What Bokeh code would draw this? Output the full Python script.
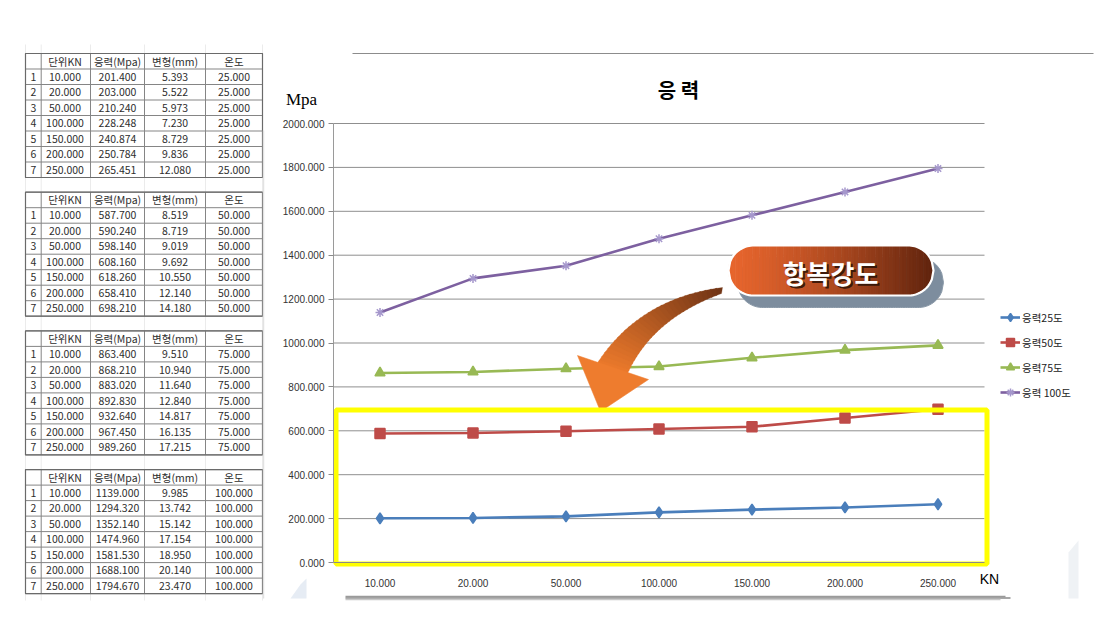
import math
from bokeh.plotting import figure
from bokeh.models import (Range1d, FixedTicker, PrintfTickFormatter, Legend,
                          LegendItem, Label, LinearAxis)
from bokeh.core.properties import value
from bokeh.embed import file_html
from bokeh.resources import INLINE

# ---------------- data ----------------
kn_labels = ["10.000", "20.000", "50.000", "100.000", "150.000", "200.000", "250.000"]
temps = [25.0, 50.0, 75.0, 100.0]
stress_25 = [201.400, 203.000, 210.240, 228.248, 240.874, 250.784, 265.451]
strain_25 = [5.393, 5.522, 5.973, 7.230, 8.729, 9.836, 12.080]
stress_50 = [587.700, 590.240, 598.140, 608.160, 618.260, 658.410, 698.210]
strain_50 = [8.519, 8.719, 9.019, 9.692, 10.550, 12.140, 14.180]
stress_75 = [863.400, 868.210, 883.020, 892.830, 932.640, 967.450, 989.260]
strain_75 = [9.510, 10.940, 11.640, 12.840, 14.817, 16.135, 17.215]
stress_100 = [1139.000, 1294.320, 1352.140, 1474.960, 1581.530, 1688.100, 1794.670]
strain_100 = [9.985, 13.742, 15.142, 17.154, 18.950, 20.140, 23.470]
series_names = ["응력25도", "응력50도", "응력75도", "응력 100도"]
col_headers = ["단위KN", "응력(Mpa)", "변형(mm)", "온도"]
y_ticks = [0, 200, 400, 600, 800, 1000, 1200, 1400, 1600, 1800, 2000]
title_text = "응 력"
y_unit = "Mpa"
x_unit = "KN"
badge_text = "항복강도"

stresses = [stress_25, stress_50, stress_75, stress_100]
strains = [strain_25, strain_50, strain_75, strain_100]
# categorical slots: each load category occupies one unit-wide slot
x_pos = [i + 0.5 for i in range(len(kn_labels))]
n_cat = len(kn_labels)
y_max = y_ticks[-1]

KR = "Noto Sans CJK KR"

# ---------------- one page-sized figure (page pixel coordinates) ----------------
OFF = 0
W, H = 1100, 640
p = figure(width=W, height=H, x_range=Range1d(OFF, OFF + W), y_range=Range1d(OFF + H, OFF),
           x_axis_location=None, y_axis_location=None, toolbar_location=None,
           output_backend="svg", min_border=0, outline_line_color=None)
p.grid.visible = False

# chart plot-area placement on the page
X0_PX, CAT_PX = 333.0, 93.0
Y0_PX, YTOP_PX = 562.0, 123.0
k = y_max / (Y0_PX - YTOP_PX)
p.extra_x_ranges = {"cat": Range1d((OFF - X0_PX) / CAT_PX, (OFF + W - X0_PX) / CAT_PX)}
p.extra_y_ranges = {"mpa": Range1d(-(OFF + H - Y0_PX) * k, y_max + (YTOP_PX - OFF) * k)}

# ---------------- tables ----------------
col_edges = [25, 40.7, 90, 144, 205, 262]
col_cx = [33, 64.5, 117, 174.5, 233.5]
row_h = 15.5
p.segment(x0=col_edges, y0=[44] * 6, x1=col_edges, y1=[600] * 6,
          line_color="#ebebeb", line_width=1)

for t in range(len(temps)):
    top = 53 + t * 138.7
    bottom = top + 8 * row_h
    p.quad(left=[col_edges[0]], right=[col_edges[-1]], top=[top], bottom=[bottom],
           fill_color="white", line_color=None)
    hy = [top + j * row_h for j in range(9)]
    p.segment(x0=[col_edges[0]] * 9, y0=hy, x1=[col_edges[-1]] * 9, y1=hy,
              line_color="#858585", line_width=1)
    p.segment(x0=col_edges, y0=[top] * 6, x1=col_edges, y1=[bottom] * 6,
              line_color="#858585", line_width=1)
    p.quad(left=[col_edges[0]], right=[col_edges[-1]], top=[top], bottom=[bottom],
           fill_alpha=0, line_color="#6a6a6a", line_width=1.2)
    tx, ty, tt = [], [], []
    for c, h in enumerate(col_headers):
        tx.append(col_cx[c + 1]); ty.append(top + row_h / 2); tt.append(h)
    for i in range(n_cat):
        yc = top + row_h * (i + 1) + row_h / 2
        vals = [str(i + 1), kn_labels[i], f"{stresses[t][i]:.3f}",
                f"{strains[t][i]:.3f}", f"{temps[t]:.3f}"]
        for c, v in enumerate(vals):
            tx.append(col_cx[c]); ty.append(yc); tt.append(v)
    p.text(x=tx, y=ty, text=tt, text_font=value(KR), text_font_size=value("10.5px"),
           text_align="center", text_baseline="middle", text_color="#2e2e2e")

# ---------------- picture frame of the chart (faint decorations) ----------------
p.segment(x0=[263], y0=[130], x1=[263], y1=[598], line_color="#e2e2e2", line_width=1.5)
p.patch(x=[1068, 1078, 1078, 1068], y=[552, 540, 598, 598], fill_color="#e4e9ef",
        line_color=None, fill_alpha=0.6)
p.patch(x=[290, 300, 306, 306, 290], y=[598, 584, 578, 598, 598], fill_color="#d6e0ec",
        line_color=None, fill_alpha=0.6)
p.segment(x0=[352], y0=[53], x1=[1093], y1=[53], line_color="#8c8c8c", line_width=1.2)
p.segment(x0=[345, 345, 345], y0=[596, 597.5, 599], x1=[1005, 1010, 1000],
          y1=[596, 597.5, 599], line_color=["#9a9a9a", "#8a8a8a", "#c8c8c8"], line_width=1.5)

# ---------------- chart ----------------
R = dict(x_range_name="cat", y_range_name="mpa")
# horizontal gridlines from the tick values
p.segment(x0=[0] * (len(y_ticks) - 1), y0=y_ticks[1:], x1=[n_cat] * (len(y_ticks) - 1),
          y1=y_ticks[1:], line_color="#8f8f8f", line_width=1, **R)

yax = LinearAxis(fixed_location=0, bounds=(0, y_max), ticker=FixedTicker(ticks=y_ticks),
                 formatter=PrintfTickFormatter(format="%.3f"), **R)
yax.major_label_text_font = "Liberation Sans"
yax.major_label_text_font_size = "10px"
yax.major_label_text_color = "#333333"
yax.minor_tick_line_color = None
yax.major_tick_out = 5
yax.major_tick_in = 0
yax.major_tick_line_color = "#8a8a8a"
yax.axis_line_color = "#9a9a9a"
yax.major_label_standoff = 4
p.add_layout(yax, "left")

xax = LinearAxis(fixed_location=0, bounds=(0, n_cat), ticker=FixedTicker(ticks=x_pos), **R)
xax.major_label_overrides = {x: lab for x, lab in zip(x_pos, kn_labels)}
xax.major_label_text_font = "Liberation Sans"
xax.major_label_text_font_size = "10px"
xax.major_label_text_color = "#333333"
xax.major_tick_line_color = None
xax.minor_tick_line_color = None
xax.axis_line_color = "#8a8a8a"
xax.major_label_standoff = 10
p.add_layout(xax, "below")

colors = ["#4a7ebb", "#be4b48", "#98b954", "#7d60a0"]
mcolors = ["#4a7ebb", "#be4b48", "#98b954", "#a597cc"]
markers = ["diamond", "square", "triangle", "asterisk"]
msizes = [11, 10, 10, 9]
items = []
for s in range(4):
    lr = p.line(x=x_pos, y=stresses[s], line_color=colors[s], line_width=2.6, **R)
    mr = p.scatter(x=x_pos, y=stresses[s], marker=markers[s], size=msizes[s],
                   fill_color=mcolors[s], line_color=mcolors[s], line_width=1.5, **R)
    items.append(LegendItem(label=series_names[s], renderers=[lr, mr]))

legend = Legend(items=items, location=(1000 - OFF, OFF + H - 402), orientation="vertical",
                margin=0, padding=0, spacing=5, glyph_width=20, glyph_height=20,
                label_standoff=2, label_text_font=KR, label_text_font_size="10.5px",
                label_text_color="#222222", border_line_color=None, background_fill_alpha=0)
p.add_layout(legend)

# ---------------- badge ----------------
def pill_half(x, x0, x1, r):
    if x < x0 + r:
        d = x0 + r - x
        return math.sqrt(max(r * r - d * d, 0.0))
    if x > x1 - r:
        d = x - (x1 - r)
        return math.sqrt(max(r * r - d * d, 0.0))
    return r

def pill_outline(x0, x1, cy, r, n=120):
    xs = [x0 + (x1 - x0) * i / n for i in range(n + 1)]
    px = xs + xs[::-1]
    py = [cy - pill_half(x, x0, x1, r) for x in xs] + [cy + pill_half(x, x0, x1, r) for x in xs[::-1]]
    return px, py

bx0, bx1, bcy, br = 728, 933, 270, 25
sx, sy = pill_outline(bx0 + 9, bx1 + 10, bcy + 12, br)
p.patch(x=sx, y=sy, fill_color="#7d8d9e", line_color="#8a99a8", line_width=1)
N = 60
c0 = (232, 102, 46)
c1 = (96, 36, 14)
gxs, gys, gcol = [], [], []
for i in range(N):
    xa = bx0 + (bx1 - bx0) * i / N
    xb = min(bx0 + (bx1 - bx0) * (i + 1) / N + 0.4, bx1)
    ss = [xa + (xb - xa) * j / 4 for j in range(5)]
    gxs.append(ss + ss[::-1])
    gys.append([bcy - pill_half(q, bx0, bx1, br) for q in ss] +
               [bcy + pill_half(q, bx0, bx1, br) for q in ss[::-1]])
    f = ((i + 0.5) / N) ** 1.3
    c = tuple(int(c0[q] + (c1[q] - c0[q]) * f) for q in range(3))
    gcol.append("#%02x%02x%02x" % c)
p.patches(xs=gxs, ys=gys, fill_color=gcol, line_color=gcol, line_width=0.3)
ox, oy = pill_outline(bx0, bx1, bcy, br)
p.patch(x=ox, y=oy, fill_alpha=0, line_color="white", line_width=2.2)
p.add_layout(Label(x=832, y=273.5, text=badge_text, text_align="center",
                   text_baseline="middle", text_font=KR, text_font_style="bold",
                   text_font_size="26px", text_color="#2a1206", text_alpha=0.85))
p.add_layout(Label(x=830, y=271.5, text=badge_text, text_align="center",
                   text_baseline="middle", text_font=KR, text_font_style="bold",
                   text_font_size="26px", text_color="white"))

# ---------------- curved arrow ----------------
def bez(p0, c, p2, t):
    return ((1 - t) ** 2 * p0[0] + 2 * (1 - t) * t * c[0] + t * t * p2[0],
            (1 - t) ** 2 * p0[1] + 2 * (1 - t) * t * c[1] + t * t * p2[1])

o0, oc, o2 = (722, 287), (638, 298), (596, 364)
i0, ic, i2 = (721, 293), (652, 318), (627, 373)
M = 30
a0 = (112, 52, 22)
a1 = (236, 122, 44)
axs, ays, acol = [], [], []
for i in range(M):
    t0, t1 = i / M, min((i + 1.3) / M, 1.0)
    p1, p2 = bez(o0, oc, o2, t0), bez(o0, oc, o2, t1)
    q1, q2 = bez(i0, ic, i2, t0), bez(i0, ic, i2, t1)
    axs.append([p1[0], p2[0], q2[0], q1[0]])
    ays.append([p1[1], p2[1], q2[1], q1[1]])
    f = (i + 0.5) / M
    c = tuple(int(a0[q] + (a1[q] - a0[q]) * f) for q in range(3))
    acol.append("#%02x%02x%02x" % c)
p.patches(xs=axs, ys=ays, fill_color=acol, line_color=acol, line_width=0.3)
p.patch(x=[577, 648, 600], y=[355, 379, 411], fill_color="#ee7c2e", line_color="#ee7c2e",
        line_width=0.5)

# ---------------- yellow highlight box ----------------
p.quad(left=[335.5], right=[986.5], top=[409.5], bottom=[563.5], fill_alpha=0,
       line_color="#ffff00", line_width=5)

# ---------------- titles / units ----------------
p.add_layout(Label(x=678, y=89, text=title_text, text_align="center", text_baseline="middle",
                   text_font=KR, text_font_style="bold", text_font_size="20px",
                   text_color="black"))
p.add_layout(Label(x=301, y=99, text=y_unit, text_align="center", text_baseline="middle",
                   text_font="Liberation Serif", text_font_size="17px", text_color="black"))
p.add_layout(Label(x=989, y=578, text=x_unit, text_align="center", text_baseline="middle",
                   text_font="Liberation Sans", text_font_size="14px", text_color="black"))

open("out.html", "w").write(file_html(p, INLINE))
